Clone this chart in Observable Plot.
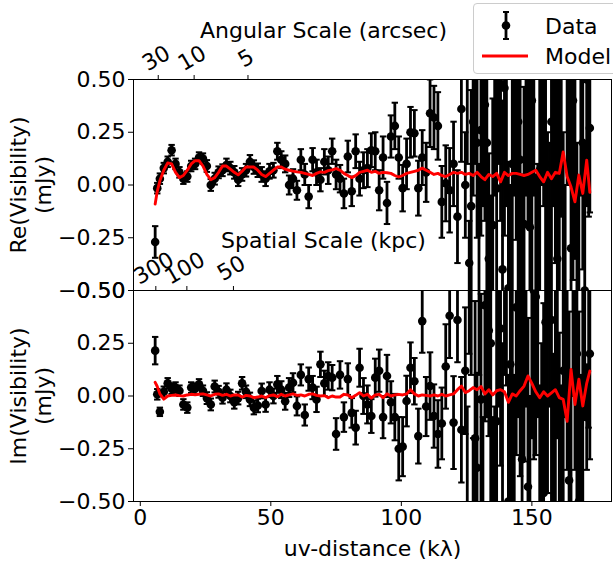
<!DOCTYPE html>
<html><head><meta charset="utf-8">
<script src="https://cdn.jsdelivr.net/npm/d3@7"></script>
<script src="https://cdn.jsdelivr.net/npm/@observablehq/plot@0.6"></script>
<style>
body{margin:0;background:#fff;font-family:"DejaVu Sans",sans-serif;}
#fig{position:relative;width:613px;height:563px;overflow:hidden;background:#fff;}
#fig svg.panel{position:absolute;left:0;overflow:visible;}
#legend{position:absolute;left:473px;top:3px;width:150px;height:69px;border:1px solid #cccccc;border-radius:4px;background:rgba(255,255,255,0.8);z-index:5;}
</style></head><body><div id="fig"></div>
<script>
// uv-distance (kλ) of each binned visibility
const uv = [
  5.7, 6.5, 7.5, 9, 10.5, 12, 13.5, 15, 16.5, 18,
  19.5, 21, 22.5, 24, 25.5, 27, 28.5, 30, 31.5, 33,
  34.5, 36, 37.5, 39, 40.5, 42, 43.5, 45, 46.5, 48,
  49.5, 51, 52.5, 54, 55.5, 57, 58.5, 60, 61.5, 63,
  64.5, 66, 67.5, 69, 70.5, 72, 73.5, 75, 76.5, 78,
  79.5, 81, 82.5, 84, 85.5, 87, 88.5, 90, 91.5, 93,
  94.5, 96, 97.5, 99, 100.5, 102, 103.5, 105, 106.5, 108,
  109.5, 111, 112.5, 114, 115.5, 117, 118.5, 120, 121.5, 123,
  124.5, 126, 127.5, 129, 130.5, 132, 133.5, 135, 136.5, 138,
  139.5, 141, 142.5, 144, 145.5, 147, 148.5, 150, 151.5, 153,
  154.5, 156, 157.5, 159, 160.5, 162, 163.5, 165, 166.5, 168,
  169.5, 171, 172.2
];
// Re(Visibility) data (mJy)
const reData = [
  -0.27, -0.015, 0.03, 0.08, 0.11, 0.165, 0.10, 0.06, 0.03, 0.04,
  0.09, 0.10, 0.13, 0.125, 0.09, 0.0, 0.03, 0.06, 0.07, 0.095,
  0.08, 0.06, 0.025, 0.05, 0.07, 0.11, 0.085, 0.07, 0.05, 0.03,
  0.065, 0.07, 0.16, 0.12, 0.10, 0.0, 0.03, -0.025, 0.12, 0.05,
  -0.055, 0.12, 0.06, 0.025, 0.11, 0.07, 0.16, 0.05, 0.03, -0.04,
  0.135, -0.03, 0.16, 0.03, 0.07, 0.08, 0.165, 0.16, -0.025, 0.13,
  -0.085, 0.23, 0.28, 0.13, -0.015, 0.10, 0.25, 0.245, -0.015, 0.13,
  0.06, 0.34, 0.32, 0.28, -0.08, 0.008, -0.025, 0.10, -0.15, 0.36,
  0.0, -0.37, 0.30, 0.2, 0.26, 0.38, -0.35, -0.19, -0.016, 0.48,
  0.46, -0.49, 0.1, 0.44, 0.12, -0.185, 0.6, 0.40, -0.7, 0.07,
  0.8, -0.55, 0.3, 0.43, 0.15, -0.6, 0.9, -0.3, 0.6, -0.9,
  0.2, 0.5, 0.27
];
const reErr = [
  0.075, 0.025, 0.025, 0.025, 0.025, 0.025, 0.025, 0.025, 0.025, 0.025,
  0.025, 0.025, 0.025, 0.025, 0.028, 0.028, 0.028, 0.028, 0.028, 0.03,
  0.03, 0.03, 0.03, 0.03, 0.03, 0.032, 0.032, 0.032, 0.035, 0.035,
  0.035, 0.035, 0.04, 0.04, 0.04, 0.045, 0.045, 0.045, 0.05, 0.05,
  0.055, 0.055, 0.06, 0.055, 0.06, 0.065, 0.06, 0.07, 0.065, 0.07,
  0.075, 0.07, 0.08, 0.08, 0.085, 0.09, 0.08, 0.09, 0.095, 0.1,
  0.1, 0.1, 0.11, 0.1, 0.11, 0.12, 0.12, 0.11, 0.13, 0.13,
  0.14, 0.16, 0.15, 0.16, 0.17, 0.18, 0.2, 0.2, 0.22, 0.25,
  0.25, 0.2, 0.35, 0.45, 0.5, 0.55, 0.5, 0.6, 0.7, 0.65,
  0.7, 0.6, 0.8, 0.7, 0.85, 0.65, 0.8, 0.9, 0.75, 0.85,
  0.9, 0.8, 0.95, 0.8, 0.9, 0.85, 0.9, 0.8, 0.95, 0.9,
  0.6, 0.6, 0.4
];
const reModel = [
  -0.09, -0.03, 0.02, 0.07, 0.105, 0.10, 0.06, 0.035, 0.045, 0.07,
  0.10, 0.115, 0.115, 0.09, 0.05, 0.025, 0.035, 0.06, 0.09, 0.09,
  0.075, 0.06, 0.048, 0.065, 0.085, 0.085, 0.085, 0.07, 0.05, 0.04,
  0.055, 0.07, 0.085, 0.085, 0.075, 0.07, 0.066, 0.062, 0.06, 0.055,
  0.05, 0.045, 0.055, 0.062, 0.06, 0.068, 0.072, 0.078, 0.07, 0.055,
  0.045, 0.035, 0.045, 0.06, 0.065, 0.07, 0.06, 0.065, 0.055, 0.06,
  0.058, 0.055, 0.045, 0.038, 0.045, 0.055, 0.06, 0.065, 0.07, 0.08,
  0.07, 0.06, 0.05, 0.055, 0.045, 0.04, 0.05, 0.06, 0.055, 0.06,
  0.05, 0.055, 0.045, 0.06, 0.04, 0.025, 0.05, 0.04, 0.055, 0.015,
  0.06, 0.045, 0.055, 0.055, 0.05, 0.045, 0.05, 0.06, 0.07, 0.04,
  0.015, 0.06, 0.03, 0.06, 0.055, 0.157, 0.04, -0.01, -0.08, 0.047,
  -0.04, 0.118, -0.035
];
// Im(Visibility) data (mJy)
const imData = [
  0.215, 0.008, -0.075, 0.02, 0.06, 0.035, 0.04, 0.025, -0.04, -0.055,
  0.04, 0.035, 0.055, 0.025, -0.01, -0.04, 0.045, 0.02, -0.008, 0.03,
  0.0, -0.03, -0.01, 0.06, 0.02, -0.016, -0.055, -0.045, 0.024, -0.04,
  0.03, 0.0, 0.055, 0.03, -0.025, 0.04, 0.063, -0.047, 0.1, -0.09,
  0.08, 0.04, -0.016, 0.15, 0.06, 0.095, 0.087, -0.18, 0.1, -0.1,
  0.08, -0.08, -0.15, 0.134, 0.0, -0.04, -0.095, 0.087, 0.12, -0.1,
  0.095, -0.03, -0.1, -0.25, -0.24, -0.024, 0.134, 0.07, -0.19, 0.355,
  -0.05, 0.047, -0.095, -0.18, -0.13, 0.14, 0.38, -0.126, 0.36, -0.16,
  0.12, 0.6, -0.55, -0.34, -0.016, 0.43, 0.31, -0.7, -0.12, 0.32,
  0.8, -0.5, -0.07, 0.42, 0.47, 0.34, -0.43, 0.7, 0.47, -0.8,
  -0.46, 0.34, 0.36, 0.18, -0.6, 0.12, 0.55, -0.7, 0.6, -0.5,
  -0.09, -0.1, 0.2
];
const imErr = [
  0.065, 0.025, 0.02, 0.025, 0.025, 0.025, 0.025, 0.025, 0.025, 0.025,
  0.025, 0.025, 0.025, 0.025, 0.028, 0.028, 0.028, 0.028, 0.028, 0.03,
  0.03, 0.03, 0.03, 0.03, 0.03, 0.032, 0.032, 0.032, 0.035, 0.035,
  0.035, 0.035, 0.04, 0.04, 0.04, 0.045, 0.045, 0.045, 0.05, 0.05,
  0.055, 0.055, 0.06, 0.06, 0.06, 0.065, 0.06, 0.075, 0.065, 0.07,
  0.075, 0.07, 0.08, 0.09, 0.085, 0.09, 0.08, 0.09, 0.1, 0.1,
  0.1, 0.1, 0.11, 0.15, 0.14, 0.12, 0.12, 0.11, 0.13, 0.15,
  0.14, 0.16, 0.15, 0.16, 0.17, 0.2, 0.2, 0.22, 0.2, 0.25,
  0.3, 0.4, 0.35, 0.45, 0.5, 0.55, 0.5, 0.6, 0.7, 0.65,
  0.7, 0.6, 0.8, 0.7, 0.85, 0.65, 0.8, 0.9, 0.75, 0.85,
  0.9, 0.8, 0.95, 0.8, 0.9, 0.85, 0.9, 0.8, 0.95, 0.9,
  0.7, 0.25, 0.5
];
const imModel = [
  0.065, 0.045, 0.01, -0.015, 0.0, 0.003, 0.005, 0.002, 0.0, 0.005,
  0.008, 0.006, 0.008, 0.01, 0.005, 0.0, 0.008, 0.01, 0.003, 0.008,
  0.0, 0.005, 0.005, -0.005, 0.003, 0.0, -0.008, -0.005, 0.0, -0.008,
  0.002, 0.005, -0.003, 0.008, 0.0, 0.005, 0.01, 0.003, 0.005, 0.0,
  0.008, 0.01, 0.003, 0.0, 0.002, -0.008, 0.0, -0.005, -0.005, 0.008,
  0.005, -0.008, 0.003, 0.016, 0.0, 0.008, -0.01, 0.005, 0.008, -0.008,
  0.01, 0.0, 0.005, 0.008, 0.005, 0.01, 0.03, 0.01, 0.0, 0.005,
  0.003, 0.0, 0.005, 0.0, 0.008, 0.0, 0.005, 0.01, 0.03, 0.047,
  0.016, 0.025, 0.04, 0.03, 0.045, 0.01, 0.03, 0.005, 0.025, 0.03,
  0.02, -0.03, 0.01, 0.0, 0.025, 0.047, 0.095, 0.06, 0.02, -0.008,
  0.02, 0.0, 0.015, 0.03, -0.008, -0.016, -0.12, 0.126, -0.04, 0.08,
  -0.047, 0.06, 0.118
];
// additional long-baseline bins (no model evaluated), mostly off-scale
const uvHigh = [
  125.25, 126.75, 128.25, 129.75, 131.25, 132.75, 134.25, 135.75, 137.25, 138.75,
  140.25, 141.75, 143.25, 144.75, 146.25, 147.75, 149.25, 150.75, 152.25, 153.75,
  155.25, 156.75, 158.25, 159.75, 161.25, 162.75, 164.25, 165.75, 167.25, 168.75,
  170.25, 171.75
];
const reHigh = [
  0.7, -0.1, 0.9, -0.6, 0.55, 0.2, -0.8, 0.65, 1.0, -0.4,
  0.6, -0.9, 0.75, 0.3, -0.65, 0.85, -0.2, 0.7, -0.75, 0.95,
  0.1, -0.6, 0.8, -0.35, 0.65, -1.0, 0.9, 0.4, -0.7, 0.75,
  -0.5, 0.6
];
const reHighErr = [
  0.6, 0.55, 0.8, 0.7, 0.65, 0.8, 0.75, 0.7, 0.9, 0.8,
  0.7, 0.9, 0.8, 0.85, 0.7, 0.9, 0.8, 0.75, 0.85, 0.95,
  0.9, 0.8, 0.9, 0.85, 0.8, 1.0, 0.9, 0.85, 0.9, 0.8,
  0.7, 0.75
];
const imHigh = [
  -0.65, 0.8, -0.2, 0.9, -0.85, 0.6, 0.25, -0.9, 0.7, -0.55,
  0.95, 0.15, -0.75, 0.65, -0.3, 0.85, -0.95, 0.5, 0.8, -0.6,
  0.35, 0.9, -0.7, 0.6, -0.85, 0.75, -0.4, 0.95, 0.2, -0.8,
  0.65, 0.55
];
const imHighErr = [
  0.6, 0.7, 0.65, 0.8, 0.75, 0.7, 0.8, 0.85, 0.75, 0.8,
  0.9, 0.8, 0.85, 0.75, 0.8, 0.9, 0.95, 0.8, 0.9, 0.85,
  0.8, 0.95, 0.9, 0.8, 0.9, 0.85, 0.8, 0.95, 0.85, 0.9,
  0.75, 0.7
];
// axes
const xDomain = [-2.6, 180.5];
const yDomain = [-0.5, 0.5];
const xTicks = [0, 50, 100, 150];
const yTicks = [-0.5, -0.25, 0, 0.25, 0.5];
const arcsecTicks = [30, 10, 5];
const kpcTicks = [300, 100, 50];
const ARCSEC_KLAMBDA = 206.265;   // uv (kλ) = 206.265 / θ (arcsec)
const KPC_PER_ARCSEC = 8.65;

const FONT = 22;
const fmt = d3.format(".2f");
const capSymbol = {draw(ctx, size) { const w = Math.sqrt(size / Math.PI); ctx.moveTo(-w, 0); ctx.lineTo(w, 0); }};
const plotStyle = {fontFamily: "DejaVu Sans", fontSize: FONT + "px", background: "transparent", overflow: "visible", color: "black"};

function errMarks(rows) {
  return [
    Plot.link(rows, {x1: "u", x2: "u", y1: d => d.v - d.e, y2: d => d.v + d.e, stroke: "black", strokeWidth: 2.8, clip: true}),
    Plot.dot(rows, {x: "u", y: d => d.v - d.e, symbol: capSymbol, r: 3.2, fill: "none", stroke: "black", strokeWidth: 2, clip: true}),
    Plot.dot(rows, {x: "u", y: d => d.v + d.e, symbol: capSymbol, r: 3.2, fill: "none", stroke: "black", strokeWidth: 2, clip: true}),
    Plot.dot(rows, {x: "u", y: "v", r: 4.3, fill: "black", clip: true})
  ];
}
function dataMarks(vals, errs, model, hv, he) {
  const rows = uv.map((u, i) => ({u, v: vals[i], e: errs[i], m: model[i]}));
  const extra = uvHigh.map((u, i) => ({u, v: hv[i], e: he[i]}));
  return [
    ...errMarks(extra),
    ...errMarks(rows),
    Plot.line(rows, {x: "u", y: "m", stroke: "#ff0000", strokeWidth: 2.9, clip: true}),
    Plot.frame({stroke: "black", strokeWidth: 1}),
    Plot.axisY({ticks: yTicks, tickFormat: fmt, tickSize: 5, tickPadding: 3, fontSize: FONT, label: null})
  ];
}
function yTitle(t) {
  return Plot.text([t], {text: d => d, frameAnchor: "left", rotate: -90, dx: -103, fontSize: FONT, lineHeight: 1.15, lineAnchor: "middle", textAnchor: "middle"});
}

const topPlot = Plot.plot({
  width: 613, height: 300,
  marginTop: 79, marginBottom: 10, marginLeft: 133, marginRight: 2,
  x: {domain: xDomain}, y: {domain: yDomain},
  style: plotStyle,
  marks: [
    ...dataMarks(reData, reErr, reModel, reHigh, reHighErr),
    Plot.axisX({anchor: "top", ticks: arcsecTicks.map(a => ARCSEC_KLAMBDA / a), tickSize: 5, tickFormat: () => "", label: null}),
    Plot.text(arcsecTicks, {x: a => ARCSEC_KLAMBDA / a, text: a => String(a), frameAnchor: "top", rotate: -30, dy: -21, dx: -2, fontSize: FONT, textAnchor: "middle", lineAnchor: "middle"}),
    Plot.text(["Angular Scale (arcsec)"], {text: d => d, frameAnchor: "top", dx: -49, dy: -49, fontSize: FONT, lineAnchor: "middle"}),
    yTitle("Re(Visibility)\n(mJy)")
  ]
});
topPlot.classList.add("panel");
topPlot.style.top = "0px";

const bottomPlot = Plot.plot({
  width: 613, height: 353,
  marginTop: 80, marginBottom: 62, marginLeft: 133, marginRight: 2,
  x: {domain: xDomain}, y: {domain: yDomain},
  style: plotStyle,
  marks: [
    ...dataMarks(imData, imErr, imModel, imHigh, imHighErr),
    Plot.axisX({anchor: "bottom", ticks: xTicks, tickFormat: d3.format("d"), tickSize: 5, tickPadding: 3, fontSize: FONT, label: null}),
    Plot.axisX({anchor: "top", ticks: kpcTicks.map(k => ARCSEC_KLAMBDA * KPC_PER_ARCSEC / k), tickSize: 5, tickFormat: () => "", label: null}),
    Plot.text(kpcTicks, {x: k => ARCSEC_KLAMBDA * KPC_PER_ARCSEC / k, text: k => String(k), frameAnchor: "top", rotate: -30, dy: -22, dx: -2, fontSize: FONT, textAnchor: "middle", lineAnchor: "middle"}),
    Plot.text(["Spatial Scale (kpc)"], {text: d => d, frameAnchor: "top", dx: -49, dy: -50, fontSize: FONT, lineAnchor: "middle"}),
    Plot.text(["uv-distance (kλ)"], {text: d => d, frameAnchor: "bottom", dy: 47, fontSize: FONT, lineAnchor: "middle"}),
    yTitle("Im(Visibility)\n(mJy)")
  ]
});
bottomPlot.classList.add("panel");
bottomPlot.style.top = "210px";

const fig = document.getElementById("fig");
fig.append(topPlot, bottomPlot);

// legend
const legend = document.createElement("div");
legend.id = "legend";
legend.innerHTML = `<svg width="150" height="69" style="display:block;font-family:'DejaVu Sans';font-size:22px">
  <line x1="32" x2="32" y1="8" y2="35" stroke="black" stroke-width="2.8"/>
  <line x1="29" x2="35" y1="8" y2="8" stroke="black" stroke-width="2"/>
  <line x1="29" x2="35" y1="35" y2="35" stroke="black" stroke-width="2"/>
  <circle cx="32" cy="21.5" r="4.3" fill="black"/>
  <line x1="8" x2="54" y1="52" y2="52" stroke="#ff0000" stroke-width="2.9"/>
  <text x="71" y="30">Data</text>
  <text x="71" y="60">Model</text>
</svg>`;
fig.append(legend);
</script></body></html>
